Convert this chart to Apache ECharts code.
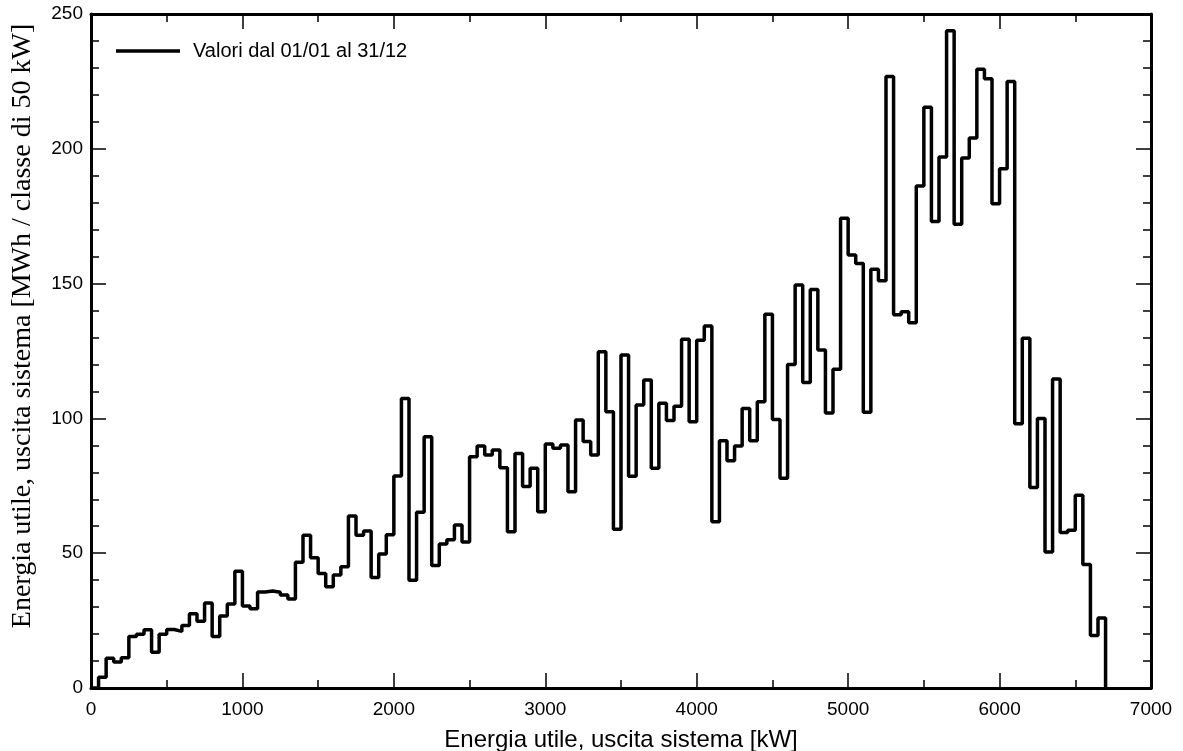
<!DOCTYPE html>
<html>
<head>
<meta charset="utf-8">
<script src="https://cdn.jsdelivr.net/npm/echarts@6/dist/echarts.min.js"></script>
<style>
  html, body { margin: 0; padding: 0; background: #fff; }
  #hist { width: 1183px; height: 751px; }
</style>
</head>
<body>
<div id="hist"></div>
<script>
// classi da 50 kW, valore in MWh per classe
var binStart = 0;
var binWidth = 50;
var energia = [
  0, 4, 11, 9.6, 11.2, 19.1, 19.9, 21.6, 13.3, 19.9,
  21.7, 21, 23.2, 27.5, 24.8, 31.5, 19.1, 26.7, 31.2, 43.3,
  30.4, 29.4, 35.6, 36, 35.5, 34.5, 33, 46.6, 56.7, 48.3,
  42.5, 37.6, 41.9, 45, 63.8, 56.7, 58.2, 41, 49.7, 56.8,
  78.6, 107.4, 40, 65.2, 93.2, 45.4, 53.4, 55, 60.5, 54.2,
  85.8, 89.8, 86.4, 88.3, 81.7, 58, 87, 74.7, 81.5, 65.4,
  90.5, 88.9, 90.1, 72.8, 99.4, 91.4, 86.4, 124.7, 102.5, 58.9,
  123.5, 78.5, 105, 114.2, 81.5, 105.6, 99.2, 104.5, 129.4, 98.8,
  129, 134.3, 61.7, 91.7, 84.3, 89.8, 103.7, 91.7, 106.2, 138.6,
  99.6, 77.8, 120, 149.5, 113.3, 147.8, 125.4, 102, 118.2, 174.2,
  160.6, 157.5, 102.3, 155.3, 151.1, 226.8, 138.4, 139.6, 135.5, 186.2,
  215.4, 173, 197, 243.8, 172, 196.6, 204, 229.5, 226, 179.6,
  192.6, 225, 98, 129.7, 74.4, 100, 50.4, 114.6, 57.7, 58.5,
  71.5, 45.8, 19.5, 26
];
var xTicks = [0, 1000, 2000, 3000, 4000, 5000, 6000, 7000];
var yTicks = [0, 50, 100, 150, 200, 250];

function initHist(){
  var chart = echarts.init(document.getElementById('hist'));

  // punti [inizio classe, valore] + chiusura a zero dopo l'ultima classe
  var pts = [];
  for (var i = 0; i < energia.length; i++) {
    pts.push([binStart + i * binWidth, energia[i]]);
  }
  pts.push([binStart + energia.length * binWidth, 0]);

  var black = '#000';
  var sans = '"Liberation Sans", Arial, sans-serif';
  var plain = function (v) { return String(v); };

  function xAx(pos, labels){
    return {
      type: 'value',
      position: pos,
      min: xTicks[0],
      max: xTicks[xTicks.length - 1],
      interval: 1000,
      axisLine: { onZero: false, lineStyle: { color: black, width: 3 } },
      axisTick: { inside: true, length: 15, lineStyle: { color: black, width: 1.5 } },
      minorTick: { show: true, splitNumber: 2, length: 8, lineStyle: { color: black, width: 1.5 } },
      splitLine: { show: false },
      axisLabel: { show: labels, color: black, fontSize: 19, fontFamily: sans, margin: 12, formatter: plain },
      name: labels ? 'Energia utile, uscita sistema [kW]' : '',
      nameLocation: 'middle',
      nameGap: 40,
      nameTextStyle: { color: black, fontSize: 24, fontFamily: sans }
    };
  }
  function yAx(pos, labels){
    return {
      type: 'value',
      position: pos,
      min: yTicks[0],
      max: yTicks[yTicks.length - 1],
      interval: 50,
      axisLine: { onZero: false, lineStyle: { color: black, width: 3 } },
      axisTick: { inside: true, length: 15, lineStyle: { color: black, width: 1.5 } },
      minorTick: { show: true, splitNumber: 5, length: 8, lineStyle: { color: black, width: 1.5 } },
      splitLine: { show: false },
      axisLabel: {
        show: labels, color: black, fontSize: 19, fontFamily: sans, margin: 8,
        padding: [4, 0, 0, 0], formatter: plain
      },
      name: labels ? 'Energia utile, uscita sistema [MWh / classe di 50 kW]' : '',
      nameLocation: 'middle',
      nameGap: 54,
      nameTextStyle: {
        color: black, fontSize: 28,
        fontFamily: '"Liberation Serif", "Times New Roman", serif',
        padding: [0, 0, 0, 50]
      }
    };
  }

  var option = {
    animation: false,
    backgroundColor: '#fff',
    grid: { left: 91, right: 32, top: 14, bottom: 63, outerBoundsMode: 'none' },
    legend: {
      left: 111,
      top: 36,
      icon: 'rect',
      itemWidth: 64,
      itemHeight: 3.5,
      textStyle: { color: black, fontSize: 20, fontFamily: sans, padding: [0, 0, 0, 8] },
      data: ['Valori dal 01/01 al 31/12']
    },
    xAxis: [xAx('bottom', true), xAx('top', false)],
    yAxis: [yAx('left', true), yAx('right', false)],
    series: [{
      name: 'Valori dal 01/01 al 31/12',
      type: 'line',
      step: 'end',
      symbol: 'none',
      showSymbol: false,
      xAxisIndex: 0,
      yAxisIndex: 0,
      lineStyle: { color: black, width: 3.5 },
      itemStyle: { color: black },
      data: pts
    }]
  };
  chart.setOption(option);
}

initHist();
</script>
</body>
</html>
